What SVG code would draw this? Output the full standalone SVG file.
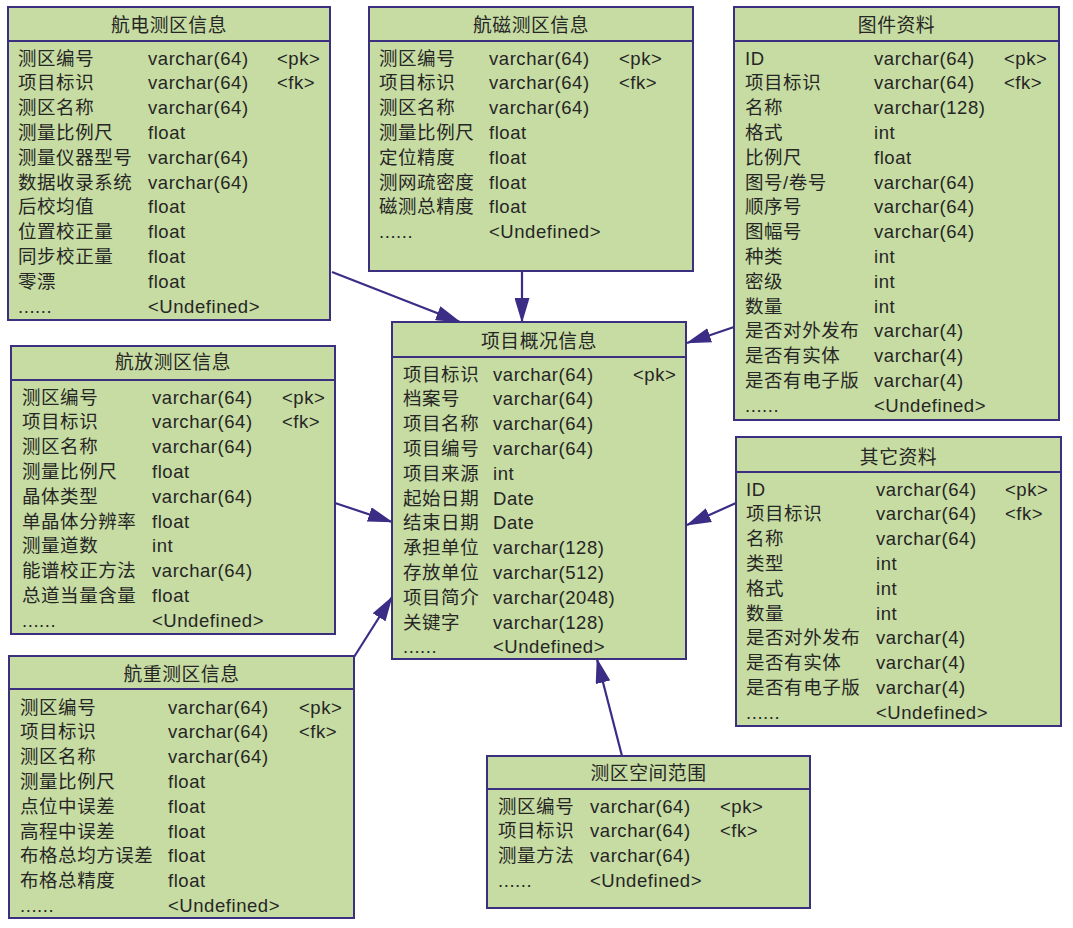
<svg xmlns="http://www.w3.org/2000/svg" width="1073" height="928" viewBox="0 0 1073 928">
<defs>
<style>
.box{fill:#c6dca2;stroke:#3b2f80;stroke-width:2}
.hl{stroke:#3b2f80;stroke-width:2}
text{font-family:"Liberation Sans","Noto Sans CJK SC",sans-serif;font-size:18.5px;fill:#262626;letter-spacing:0.55px}
.t{text-anchor:middle;font-size:18.8px}
.c{stroke:#3b2c86;stroke-width:2.2;fill:none;marker-end:url(#arr)}
</style>
<marker id="arr" markerUnits="userSpaceOnUse" markerWidth="25" markerHeight="15" refX="24" refY="7.5" orient="auto"><path d="M0,0 L25,7.5 L0,15 Z" fill="#3b2c86"/></marker>
</defs>
<rect width="1073" height="928" fill="#ffffff"/>

<g id="connectors">
<line class="c" x1="332" y1="272" x2="460" y2="322"/>
<line class="c" x1="522" y1="271" x2="522" y2="322"/>
<line class="c" x1="734" y1="327" x2="687" y2="343"/>
<line class="c" x1="335" y1="503" x2="392" y2="522"/>
<line class="c" x1="736" y1="503" x2="687" y2="525"/>
<line class="c" x1="354" y1="657" x2="392" y2="597"/>
<line class="c" x1="622" y1="756" x2="597" y2="659"/>
</g>

<g id="hangdian">
<rect class="box" x="8" y="7" width="322" height="313"/>
<line class="hl" x1="8" y1="41" x2="330" y2="41"/>
<text class="t" x="169" y="31.5">航电测区信息</text>
<text x="18" y="64.5">测区编号</text><text x="148" y="64.5">varchar(64)</text><text x="277" y="64.5">&lt;pk&gt;</text>
<text x="18" y="89.3">项目标识</text><text x="148" y="89.3">varchar(64)</text><text x="277" y="89.3">&lt;fk&gt;</text>
<text x="18" y="114.1">测区名称</text><text x="148" y="114.1">varchar(64)</text>
<text x="18" y="138.9">测量比例尺</text><text x="148" y="138.9">float</text>
<text x="18" y="163.7">测量仪器型号</text><text x="148" y="163.7">varchar(64)</text>
<text x="18" y="188.5">数据收录系统</text><text x="148" y="188.5">varchar(64)</text>
<text x="18" y="213.3">后校均值</text><text x="148" y="213.3">float</text>
<text x="18" y="238.1">位置校正量</text><text x="148" y="238.1">float</text>
<text x="18" y="262.9">同步校正量</text><text x="148" y="262.9">float</text>
<text x="18" y="287.7">零漂</text><text x="148" y="287.7">float</text>
<text x="18" y="312.5">......</text><text x="148" y="312.5">&lt;Undefined&gt;</text>
</g>

<g id="hangci">
<rect class="box" x="369" y="7" width="324" height="264"/>
<line class="hl" x1="369" y1="41" x2="693" y2="41"/>
<text class="t" x="531" y="31.5">航磁测区信息</text>
<text x="379" y="64.5">测区编号</text><text x="489" y="64.5">varchar(64)</text><text x="619" y="64.5">&lt;pk&gt;</text>
<text x="379" y="89.3">项目标识</text><text x="489" y="89.3">varchar(64)</text><text x="619" y="89.3">&lt;fk&gt;</text>
<text x="379" y="114.1">测区名称</text><text x="489" y="114.1">varchar(64)</text>
<text x="379" y="138.9">测量比例尺</text><text x="489" y="138.9">float</text>
<text x="379" y="163.7">定位精度</text><text x="489" y="163.7">float</text>
<text x="379" y="188.5">测网疏密度</text><text x="489" y="188.5">float</text>
<text x="379" y="213.3">磁测总精度</text><text x="489" y="213.3">float</text>
<text x="379" y="238.1">......</text><text x="489" y="238.1">&lt;Undefined&gt;</text>
</g>

<g id="tujian">
<rect class="box" x="734" y="7" width="325" height="413"/>
<line class="hl" x1="734" y1="41" x2="1059" y2="41"/>
<text class="t" x="896.5" y="31.5">图件资料</text>
<text x="745" y="64.5">ID</text><text x="874" y="64.5">varchar(64)</text><text x="1004" y="64.5">&lt;pk&gt;</text>
<text x="745" y="89.3">项目标识</text><text x="874" y="89.3">varchar(64)</text><text x="1004" y="89.3">&lt;fk&gt;</text>
<text x="745" y="114.1">名称</text><text x="874" y="114.1">varchar(128)</text>
<text x="745" y="138.9">格式</text><text x="874" y="138.9">int</text>
<text x="745" y="163.7">比例尺</text><text x="874" y="163.7">float</text>
<text x="745" y="188.5">图号/卷号</text><text x="874" y="188.5">varchar(64)</text>
<text x="745" y="213.3">顺序号</text><text x="874" y="213.3">varchar(64)</text>
<text x="745" y="238.1">图幅号</text><text x="874" y="238.1">varchar(64)</text>
<text x="745" y="262.9">种类</text><text x="874" y="262.9">int</text>
<text x="745" y="287.7">密级</text><text x="874" y="287.7">int</text>
<text x="745" y="312.5">数量</text><text x="874" y="312.5">int</text>
<text x="745" y="337.3">是否对外发布</text><text x="874" y="337.3">varchar(4)</text>
<text x="745" y="362.1">是否有实体</text><text x="874" y="362.1">varchar(4)</text>
<text x="745" y="386.9">是否有电子版</text><text x="874" y="386.9">varchar(4)</text>
<text x="745" y="411.7">......</text><text x="874" y="411.7">&lt;Undefined&gt;</text>
</g>

<g id="xiangmu">
<rect class="box" x="392" y="322" width="294" height="337"/>
<line class="hl" x1="392" y1="357" x2="686" y2="357"/>
<text class="t" x="539" y="347.5">项目概况信息</text>
<text x="403" y="380.5">项目标识</text><text x="493" y="380.5">varchar(64)</text><text x="633" y="380.5">&lt;pk&gt;</text>
<text x="403" y="405.3">档案号</text><text x="493" y="405.3">varchar(64)</text>
<text x="403" y="430.1">项目名称</text><text x="493" y="430.1">varchar(64)</text>
<text x="403" y="454.9">项目编号</text><text x="493" y="454.9">varchar(64)</text>
<text x="403" y="479.7">项目来源</text><text x="493" y="479.7">int</text>
<text x="403" y="504.5">起始日期</text><text x="493" y="504.5">Date</text>
<text x="403" y="529.3">结束日期</text><text x="493" y="529.3">Date</text>
<text x="403" y="554.1">承担单位</text><text x="493" y="554.1">varchar(128)</text>
<text x="403" y="578.9">存放单位</text><text x="493" y="578.9">varchar(512)</text>
<text x="403" y="603.7">项目简介</text><text x="493" y="603.7">varchar(2048)</text>
<text x="403" y="628.5">关键字</text><text x="493" y="628.5">varchar(128)</text>
<text x="403" y="653.3">......</text><text x="493" y="653.3">&lt;Undefined&gt;</text>
</g>

<g id="hangfang">
<rect class="box" x="11" y="346" width="324" height="288"/>
<line class="hl" x1="11" y1="380" x2="335" y2="380"/>
<text class="t" x="173" y="368.5">航放测区信息</text>
<text x="22" y="403.5">测区编号</text><text x="152" y="403.5">varchar(64)</text><text x="282" y="403.5">&lt;pk&gt;</text>
<text x="22" y="428.3">项目标识</text><text x="152" y="428.3">varchar(64)</text><text x="282" y="428.3">&lt;fk&gt;</text>
<text x="22" y="453.1">测区名称</text><text x="152" y="453.1">varchar(64)</text>
<text x="22" y="477.9">测量比例尺</text><text x="152" y="477.9">float</text>
<text x="22" y="502.7">晶体类型</text><text x="152" y="502.7">varchar(64)</text>
<text x="22" y="527.5">单晶体分辨率</text><text x="152" y="527.5">float</text>
<text x="22" y="552.3">测量道数</text><text x="152" y="552.3">int</text>
<text x="22" y="577.1">能谱校正方法</text><text x="152" y="577.1">varchar(64)</text>
<text x="22" y="601.9">总道当量含量</text><text x="152" y="601.9">float</text>
<text x="22" y="626.7">......</text><text x="152" y="626.7">&lt;Undefined&gt;</text>
</g>

<g id="hangzhong">
<rect class="box" x="9" y="656" width="345" height="262"/>
<line class="hl" x1="9" y1="689" x2="354" y2="689"/>
<text class="t" x="181.5" y="680.5">航重测区信息</text>
<text x="20" y="713.5">测区编号</text><text x="168" y="713.5">varchar(64)</text><text x="299" y="713.5">&lt;pk&gt;</text>
<text x="20" y="738.3">项目标识</text><text x="168" y="738.3">varchar(64)</text><text x="299" y="738.3">&lt;fk&gt;</text>
<text x="20" y="763.1">测区名称</text><text x="168" y="763.1">varchar(64)</text>
<text x="20" y="787.9">测量比例尺</text><text x="168" y="787.9">float</text>
<text x="20" y="812.7">点位中误差</text><text x="168" y="812.7">float</text>
<text x="20" y="837.5">高程中误差</text><text x="168" y="837.5">float</text>
<text x="20" y="862.3">布格总均方误差</text><text x="168" y="862.3">float</text>
<text x="20" y="887.1">布格总精度</text><text x="168" y="887.1">float</text>
<text x="20" y="911.9">......</text><text x="168" y="911.9">&lt;Undefined&gt;</text>
</g>

<g id="qita">
<rect class="box" x="736" y="437" width="325" height="289"/>
<line class="hl" x1="736" y1="472" x2="1061" y2="472"/>
<text class="t" x="898.5" y="463.5">其它资料</text>
<text x="746" y="495.5">ID</text><text x="876" y="495.5">varchar(64)</text><text x="1005" y="495.5">&lt;pk&gt;</text>
<text x="746" y="520.3">项目标识</text><text x="876" y="520.3">varchar(64)</text><text x="1005" y="520.3">&lt;fk&gt;</text>
<text x="746" y="545.1">名称</text><text x="876" y="545.1">varchar(64)</text>
<text x="746" y="569.9">类型</text><text x="876" y="569.9">int</text>
<text x="746" y="594.7">格式</text><text x="876" y="594.7">int</text>
<text x="746" y="619.5">数量</text><text x="876" y="619.5">int</text>
<text x="746" y="644.3">是否对外发布</text><text x="876" y="644.3">varchar(4)</text>
<text x="746" y="669.1">是否有实体</text><text x="876" y="669.1">varchar(4)</text>
<text x="746" y="693.9">是否有电子版</text><text x="876" y="693.9">varchar(4)</text>
<text x="746" y="718.7">......</text><text x="876" y="718.7">&lt;Undefined&gt;</text>
</g>

<g id="kongjian">
<rect class="box" x="487" y="756" width="323" height="152"/>
<line class="hl" x1="487" y1="789" x2="810" y2="789"/>
<text class="t" x="648.5" y="779.5">测区空间范围</text>
<text x="498" y="812.5">测区编号</text><text x="590" y="812.5">varchar(64)</text><text x="720" y="812.5">&lt;pk&gt;</text>
<text x="498" y="837.3">项目标识</text><text x="590" y="837.3">varchar(64)</text><text x="720" y="837.3">&lt;fk&gt;</text>
<text x="498" y="862.1">测量方法</text><text x="590" y="862.1">varchar(64)</text>
<text x="498" y="886.9">......</text><text x="590" y="886.9">&lt;Undefined&gt;</text>
</g>
</svg>
